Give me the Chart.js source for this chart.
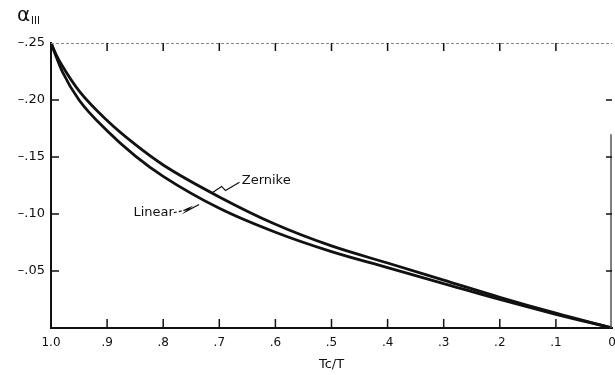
<!DOCTYPE html>
<html>
<head>
<meta charset="utf-8">
<script src="https://cdn.jsdelivr.net/npm/chart.js@4.4.0/dist/chart.umd.min.js"></script>
<style>
  html, body { margin: 0; padding: 0; background: #fff; }
  #wrap { width: 615px; height: 375px; position: relative; }
</style>
</head>
<body>
<div id="wrap"><canvas id="lineChart"></canvas></div>
<script>
// values (Tc/T runs from 1.0 on the left down to 0)
var tcT     = [1.0, 0.99, 0.98, 0.95, 0.9, 0.85, 0.8, 0.7, 0.6, 0.5, 0.4, 0.3, 0.2, 0.1, 0];
var zernike = [0.25, 0.239, 0.230, 0.208, 0.182, 0.161, 0.143, 0.115, 0.091, 0.072, 0.057, 0.042, 0.027, 0.013, 0];
var linear  = [0.25, 0.237, 0.225, 0.200, 0.173, 0.151, 0.133, 0.105, 0.084, 0.067, 0.053, 0.039, 0.025, 0.012, 0];
var xTickValues = [1.0, 0.9, 0.8, 0.7, 0.6, 0.5, 0.4, 0.3, 0.2, 0.1, 0];
var yTickValues = [0.05, 0.10, 0.15, 0.20, 0.25];

var FONT = '"DejaVu Sans", "Liberation Sans", sans-serif';

function points(xs, ys) {
  var out = [];
  for (var i = 0; i < xs.length; i++) out.push({x: xs[i], y: ys[i]});
  return out;
}

function xLabel(v) {
  if (Math.abs(v - 1) < 1e-9) return '1.0';
  if (Math.abs(v) < 1e-9) return '0';
  return '.' + Math.round(v * 10);
}

function yLabel(v) {
  if (Math.abs(v) < 1e-9) return '';
  var s = Math.round(v * 100);
  return '\u2013.' + (s < 10 ? '0' + s : s);
}

// axes box, inward ticks, title and the two leader notes
var paperAxes = {
  id: 'paperAxes',
  afterDraw: function (chart) {
    var ctx = chart.ctx, a = chart.chartArea;
    var xs = chart.scales.x, ys = chart.scales.y;
    function px(v) { return xs.getPixelForValue(v); }
    function py(v) { return ys.getPixelForValue(v); }
    ctx.save();

    // dotted top edge
    ctx.strokeStyle = '#8a8a8a';
    ctx.lineWidth = 1;
    ctx.setLineDash([3, 2]);
    ctx.beginPath();
    ctx.moveTo(a.left, a.top + 0.5);
    ctx.lineTo(a.right, a.top + 0.5);
    ctx.stroke();
    ctx.setLineDash([]);

    // right edge, faint at the top
    ctx.strokeStyle = '#555';
    ctx.lineWidth = 1.5;
    ctx.beginPath();
    ctx.moveTo(a.right - 1, py(0.17));
    ctx.lineTo(a.right - 1, a.bottom);
    ctx.stroke();

    // ticks pointing into the plot
    ctx.strokeStyle = '#111';
    ctx.lineWidth = 1.5;
    ctx.beginPath();
    xTickValues.forEach(function (v) {
      if (v <= 0 || v >= 1) return;
      ctx.moveTo(px(v), a.bottom);
      ctx.lineTo(px(v), a.bottom - 9);
      ctx.moveTo(px(v), a.top);
      ctx.lineTo(px(v), a.top + 8);
    });
    yTickValues.forEach(function (v) {
      if (v >= 0.25) return;
      ctx.moveTo(a.left, py(v));
      ctx.lineTo(a.left + 8, py(v));
      ctx.moveTo(a.right, py(v));
      ctx.lineTo(a.right - 6, py(v));
    });
    ctx.stroke();

    // alpha_III title
    ctx.fillStyle = '#111';
    ctx.textBaseline = 'alphabetic';
    ctx.textAlign = 'left';
    ctx.font = '20px ' + FONT;
    ctx.fillText('\u03b1', 17, 21);
    ctx.font = '10px ' + FONT;
    ctx.fillText('III', 31, 24);

    // notes
    ctx.font = '13px ' + FONT;
    ctx.textBaseline = 'middle';
    ctx.fillText('Zernike', px(0.660), py(0.1294));
    ctx.fillText('Linear', px(0.853), py(0.1012));

    ctx.lineWidth = 1.2;
    ctx.beginPath();
    ctx.moveTo(px(0.664), py(0.1278));
    ctx.lineTo(px(0.689), py(0.1206));
    ctx.lineTo(px(0.696), py(0.1242));
    ctx.lineTo(px(0.712), py(0.1189));
    ctx.stroke();

    ctx.setLineDash([3, 2]);
    ctx.beginPath();
    ctx.moveTo(px(0.781), py(0.1012));
    ctx.lineTo(px(0.764), py(0.1030));
    ctx.stroke();
    ctx.setLineDash([]);
    ctx.beginPath();
    ctx.moveTo(px(0.764), py(0.1030));
    ctx.lineTo(px(0.752), py(0.1056));
    ctx.lineTo(px(0.760), py(0.1021));
    ctx.lineTo(px(0.736), py(0.1083));
    ctx.stroke();

    ctx.restore();
  }
};

var ctx = document.getElementById('lineChart').getContext('2d');
var chart = new Chart(ctx, {
  type: 'scatter',
  data: {
    datasets: [
      {
        label: 'Zernike',
        data: points(tcT, zernike),
        showLine: true,
        borderColor: '#111',
        borderWidth: 2.8,
        pointRadius: 0,
        cubicInterpolationMode: 'monotone'
      },
      {
        label: 'Linear',
        data: points(tcT, linear),
        showLine: true,
        borderColor: '#111',
        borderWidth: 2.8,
        pointRadius: 0,
        cubicInterpolationMode: 'monotone'
      }
    ]
  },
  options: {
    responsive: true,
    maintainAspectRatio: false,
    animation: false,
    layout: { padding: { top: 43, right: 3, left: 0, bottom: 0 } },
    plugins: {
      legend: { display: false },
      tooltip: { enabled: false }
    },
    scales: {
      x: {
        type: 'linear',
        reverse: true,
        min: 0,
        max: 1,
        afterBuildTicks: function (scale) {
          scale.ticks = xTickValues.map(function (v) { return {value: v}; });
        },
        afterFit: function (scale) {
          scale.height = 47;
          scale.paddingLeft = 0;
          scale.paddingRight = 0;
        },
        grid: { display: false, drawTicks: false },
        border: { display: true, color: '#111', width: 2 },
        ticks: {
          padding: 8,
          maxRotation: 0,
          autoSkip: false,
          color: '#111',
          font: { family: FONT, size: 12 },
          callback: function (v) { return xLabel(v); }
        },
        title: {
          display: true,
          text: 'Tc/T',
          color: '#111',
          font: { family: FONT, size: 13 },
          padding: { top: 0, bottom: 3 }
        }
      },
      y: {
        min: 0,
        max: 0.25,
        afterBuildTicks: function (scale) {
          scale.ticks = yTickValues.map(function (v) { return {value: v}; });
        },
        afterFit: function (scale) {
          scale.width = 51;
          scale.paddingTop = 0;
          scale.paddingBottom = 0;
        },
        grid: { display: false, drawTicks: false },
        border: { display: true, color: '#111', width: 2 },
        ticks: {
          padding: 6,
          autoSkip: false,
          color: '#111',
          font: { family: FONT, size: 13 },
          callback: function (v) { return yLabel(v); }
        }
      }
    }
  },
  plugins: [paperAxes]
});
</script>
</body>
</html>
